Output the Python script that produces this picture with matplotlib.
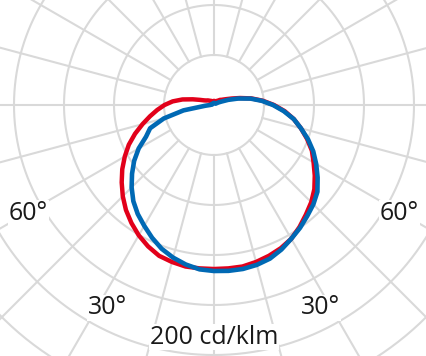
import numpy as np
import matplotlib.pyplot as plt

# gamma angles (degrees from nadir) and intensities in cd/klm
gamma = list(range(0, 181, 5))

c0 = [164, 164, 164, 162.5, 160.5, 158, 154.5, 149, 143, 137.5, 131, 123, 115, 108, 99, 90, 81, 71, 60,
      49, 38, 27, 19, 14, 11, 9, 8, 6.5, 5.5, 5, 4.5, 4, 4, 4, 4, 4, 4]
c180 = [164, 164, 164, 162.5, 160.5, 156, 150.5, 144, 137, 129, 120.5, 112, 103, 94, 84, 74, 65, 57, 49.5,
        41.5, 32, 22, 15, 11, 9, 8, 7, 6, 5.5, 5, 4.5, 4, 4, 4, 4, 4, 4]
c90 = [166, 166.5, 166.5, 165.5, 163.5, 159.5, 154.5, 150, 145, 140.5, 135, 126.5, 118, 109.5, 100, 90, 81,
       70, 59, 48, 37, 25, 15, 8, 5, 3, 2, 2, 2, 2, 2, 2, 2, 2, 2, 2, 2]
c270 = [166, 165, 162, 158, 153, 146.5, 139.5, 133, 125.5, 116.5, 107, 97.5, 87, 75, 68, 52, 31, 9, 4,
        3, 2, 2, 2, 2, 2, 2, 2, 2, 2, 2, 2, 2, 2, 2, 2, 2, 2]

rings = [50, 100, 150, 200, 250, 300, 350]
spokes = list(range(0, 360, 15))

angle_labels = ["60°", "30°", "30°", "60°"]
angle_pos = [-59.7, -27.7, 27.7, 59.7]
angle_rad = [215, 229, 229, 215]
scale_label = "200 cd/klm"

RED = "#e2001a"
BLUE = "#0069b4"
GRID = "#d9d9d9"

plt.rcParams["font.family"] = ["Open Sans", "DejaVu Sans"]

W, H = 427, 356
cx, cy, R = 214, 105, 350

fig = plt.figure(figsize=(W / 100, H / 100), dpi=100)
ax = fig.add_axes([(cx - R) / W, (H - cy - R) / H, 2 * R / W, 2 * R / H], projection="polar")
ax.set_theta_zero_location("S")
ax.set_theta_direction(1)
ax.set_ylim(0, R)
ax.grid(False)
ax.set_xticks([])
ax.set_yticks([])
ax.spines["polar"].set_visible(False)

# grid
t = np.linspace(0, 2 * np.pi, 400)
for r in rings:
    ax.plot(t, [r] * len(t), color=GRID, lw=1.5, zorder=1)
for s in spokes:
    ax.plot([np.radians(s)] * 2, [50, R], color=GRID, lw=1.5, zorder=1)

g = np.radians(gamma)


def full_curve(right, left):
    th = np.concatenate([-g[::-1], g[1:]])
    rr = np.concatenate([left[::-1], right[1:]])
    return th, rr


th, rr = full_curve(np.array(c0), np.array(c180))
ax.plot(th, rr, color=RED, lw=3.2, zorder=3, solid_capstyle="round", solid_joinstyle="round")
th, rr = full_curve(np.array(c90), np.array(c270))
ax.plot(th, rr, color=BLUE, lw=3.3, zorder=4, solid_capstyle="round", solid_joinstyle="round")

box = dict(facecolor="white", edgecolor="none", pad=0.5)
for lab, a, r in zip(angle_labels, angle_pos, angle_rad):
    ax.text(np.radians(a), r, lab, ha="center", va="center", fontsize=18, color="#1a1a1a",
            bbox=box, zorder=5)
ax.text(0, 232, scale_label, ha="center", va="center", fontsize=18, color="#1a1a1a",
        bbox=box, zorder=5)

fig.savefig("out.png", dpi=100)
